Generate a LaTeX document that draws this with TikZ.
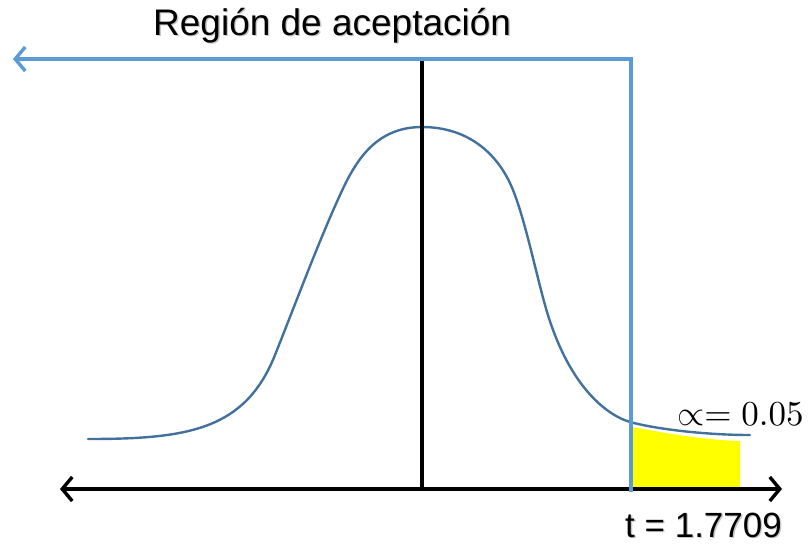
\documentclass[tikz,border=0pt]{standalone}
\usepackage{fontspec}
\usepackage{graphicx}
\setmainfont{Liberation Sans}
\usetikzlibrary{arrows.meta}
\definecolor{curveblue}{RGB}{65,113,156}
\definecolor{lineblue}{RGB}{91,155,213}
\definecolor{tailyellow}{RGB}{255,255,0}
\tikzset{
  curvestyle/.style={draw=curveblue, line width=2.4pt, line cap=round},
  bluebound/.style={draw=lineblue, line width=3.4pt, -{Straight Barb[length=10pt,width=24pt,line width=3.4pt]}},
  axisstyle/.style={draw=black, line width=3.4pt, {Straight Barb[length=10pt,width=24pt,line width=3.4pt]}-{Straight Barb[length=10pt,width=24pt,line width=3.4pt]}},
  meanline/.style={draw=black, line width=3.4pt},
  lbl/.style={inner sep=0pt, anchor=base west},
  shadowlbl/.style={lbl, text=black!22}
}
\begin{document}
\begin{tikzpicture}[x=1pt,y=-1pt]
\useasboundingbox (0,0) rectangle (811,547);
% coordinates
\coordinate (axL) at (60,489);
\coordinate (axR) at (782,489);
\coordinate (meanTop) at (422,60);
\coordinate (meanBot) at (422,489);
\coordinate (critBot) at (631,492);
\coordinate (arrTip) at (13,59);
% shaded tail
\fill[tailyellow] (632,427) .. controls (670,434) and (705,440) .. (740,441) -- (740,488) -- (632,488) -- cycle;
% density curve
\draw[curvestyle] (88,439) .. controls (188,439) and (245,430) .. (275,355)
  .. controls (295,305) and (318,243) .. (340,195)
  .. controls (355,162) and (375,127) .. (422,127)
  .. controls (467,127) and (498,152.5) .. (513,190)
  .. controls (525,220) and (535,269) .. (545,305)
  .. controls (567,384) and (605,414.5) .. (630,422)
  .. controls (660,430) and (710,435) .. (750,435);
% mean line
\draw[meanline] (meanTop) -- (meanBot);
% axis
\draw[axisstyle] (axL) -- (axR);
% acceptance region boundary
\draw[bluebound] (critBot) |- (arrTip);
% labels
\node[shadowlbl, font=\fontsize{37}{44}\selectfont] (titleshadow) at (154.3,36.3) {Región de aceptación};
\node[lbl, font=\fontsize{37}{44}\selectfont] (title) at (153,35) {Región de aceptación};
\node[shadowlbl, font=\fontsize{35}{42}\selectfont] (tshadow) at (626.3,538.3) {t = 1.7709};
\node[lbl, font=\fontsize{35}{42}\selectfont] (tval) at (625,537) {t = 1.7709};
\node[lbl, font=\fontsize{10}{12}\selectfont] (alpha) at (677,425) {\scalebox{3.5}{$\propto = 0.05$}};
\end{tikzpicture}
\end{document}
